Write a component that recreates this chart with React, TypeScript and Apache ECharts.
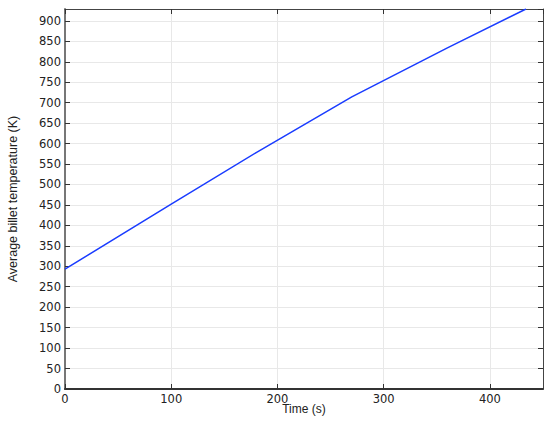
import React, { useEffect, useRef } from "react";
import * as echarts from "echarts";

const timeS = [0, 100, 180, 270, 360, 434];
const tempK = [293, 452, 578, 714, 834, 929];

const xTicks = { min: 0, max: 450, interval: 100 };
const yTicks = { min: 0, max: 929, interval: 50 };

export default function App() {
  const ref = useRef<HTMLDivElement>(null);
  useEffect(() => {
    if (!ref.current) return;
    const chart = echarts.init(ref.current, null, { renderer: "svg" });
    const tickFont = { fontFamily: "DejaVu Sans", fontSize: 11.5, color: "#222" };
    const data = timeS.map((t, i) => [t, tempK[i]]);
    chart.setOption({
      animation: false,
      backgroundColor: "#fff",
      grid: {
        left: 65,
        right: 7,
        top: 9,
        bottom: 32,
        containLabel: false,
        outerBoundsMode: "none",
      },
      xAxis: [
        {
          type: "value",
          min: xTicks.min,
          max: xTicks.max,
          interval: xTicks.interval,
          position: "bottom",
          name: "Time (s)",
          nameLocation: "middle",
          nameGap: 14,
          nameMoveOverlap: false,
          nameTextStyle: { fontFamily: "Liberation Sans", fontSize: 12, color: "#222" },
          axisLine: { show: true, onZero: false, lineStyle: { color: "#333", width: 2 } },
          axisTick: { show: true, inside: true, length: 5, lineStyle: { color: "#333" } },
          axisLabel: { ...tickFont, margin: 4, showMaxLabel: false },
          splitLine: { show: true, lineStyle: { color: "#e8e8e8", width: 1 } },
        },
        {
          type: "value",
          min: xTicks.min,
          max: xTicks.max,
          interval: xTicks.interval,
          position: "top",
          axisLine: { show: true, onZero: false, lineStyle: { color: "#444", width: 1 } },
          axisTick: { show: true, inside: true, length: 5, lineStyle: { color: "#333" } },
          axisLabel: { show: false },
          splitLine: { show: false },
        },
      ],
      yAxis: [
        {
          type: "value",
          min: yTicks.min,
          max: yTicks.max,
          interval: yTicks.interval,
          position: "left",
          name: "Average billet temperature (K)",
          nameLocation: "middle",
          nameGap: 46,
          nameRotate: 90,
          nameMoveOverlap: false,
          nameTextStyle: { fontFamily: "Liberation Sans", fontSize: 12.5, color: "#222" },
          axisLine: { show: true, onZero: false, lineStyle: { color: "#777", width: 2 } },
          axisTick: { show: true, inside: true, length: 5, lineStyle: { color: "#333" } },
          axisLabel: { ...tickFont, margin: 4, showMaxLabel: false },
          splitLine: { show: true, lineStyle: { color: "#e8e8e8", width: 1 } },
        },
        {
          type: "value",
          min: yTicks.min,
          max: yTicks.max,
          interval: yTicks.interval,
          position: "right",
          axisLine: { show: true, onZero: false, lineStyle: { color: "#444", width: 1 } },
          axisTick: { show: true, inside: true, length: 5, lineStyle: { color: "#333" } },
          axisLabel: { show: false },
          splitLine: { show: false },
        },
      ],
      series: [
        {
          type: "line",
          data,
          xAxisIndex: 0,
          yAxisIndex: 0,
          showSymbol: false,
          symbol: "none",
          lineStyle: { color: "#1a3cff", width: 1.5 },
          clip: true,
        },
      ],
    });
    return () => chart.dispose();
  }, []);
  return (
    <div
      ref={ref}
      style={{ position: "fixed", left: 0, top: 0, width: 550, height: 421 }}
    />
  );
}
